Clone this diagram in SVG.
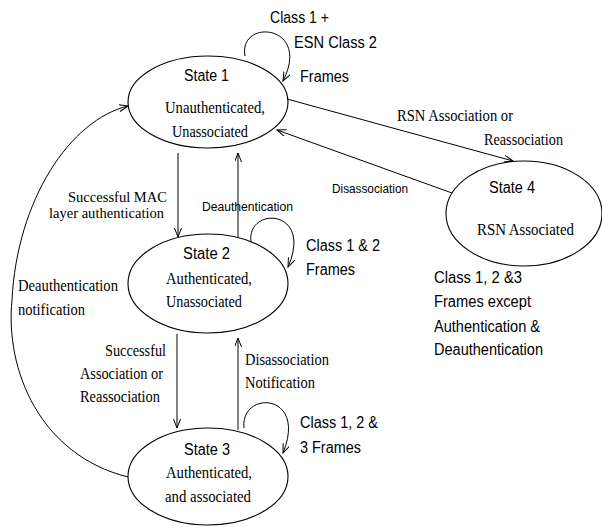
<svg xmlns="http://www.w3.org/2000/svg" width="602" height="527" viewBox="0 0 602 527">
<style>
.st{fill:none;stroke:#000;stroke-width:1.1}
.e{fill:none;stroke:#000;stroke-width:1}
.s{font-family:"Liberation Sans",Arial,sans-serif;font-size:16px;fill:#000}
.ss{font-family:"Liberation Sans",Arial,sans-serif;font-size:13px;fill:#000}
.r{font-family:"Liberation Serif","Times New Roman",serif;font-size:16px;fill:#000}
.rs{font-family:"Liberation Serif","Times New Roman",serif;font-size:14.5px;fill:#000}
</style>
<defs>
<marker id="a" markerUnits="userSpaceOnUse" markerWidth="12" markerHeight="10" refX="9" refY="3.5" orient="auto" viewBox="0 0 12 10">
<path d="M0,0 L9,3.5 L0,7" fill="none" stroke="#000" stroke-width="1"/>
</marker>
</defs>
<rect width="602" height="527" fill="#fff"/>
<g id="connectors">
<line class="e" x1="287" y1="99" x2="513" y2="161" marker-end="url(#a)"/>
<line class="e" x1="452" y1="193" x2="277" y2="130" marker-end="url(#a)"/>
<line class="e" x1="178" y1="153" x2="178" y2="237" marker-end="url(#a)"/>
<line class="e" x1="238" y1="237" x2="238" y2="153" marker-end="url(#a)"/>
<line class="e" x1="177" y1="334" x2="177" y2="428" marker-end="url(#a)"/>
<line class="e" x1="238" y1="430" x2="238" y2="338" marker-end="url(#a)"/>
<path class="e" d="M128,477 C40,455 5,370 12,300 C17,200 70,120 128,106" marker-end="url(#a)"/>
<path class="e" d="M245,56 C238,18 312,24 283,81" marker-end="url(#a)"/>
<path class="e" d="M251,242 C246,206 314,208 288,267" marker-end="url(#a)"/>
<path class="e" d="M244,428 C240,390 308,392 283,453" marker-end="url(#a)"/>
<text class="s" x="270" y="23" textLength="59" lengthAdjust="spacingAndGlyphs">Class 1 +</text>
<text class="s" x="294" y="48" textLength="83" lengthAdjust="spacingAndGlyphs">ESN Class 2</text>
<text class="s" x="300" y="82" textLength="49" lengthAdjust="spacingAndGlyphs">Frames</text>
<text class="r" x="397" y="121" textLength="116" lengthAdjust="spacingAndGlyphs">RSN Association or</text>
<text class="r" x="484" y="145" textLength="79" lengthAdjust="spacingAndGlyphs">Reassociation</text>
<text class="ss" x="332" y="193" textLength="76" lengthAdjust="spacingAndGlyphs">Disassociation</text>
<text class="rs" x="68" y="202" textLength="99" lengthAdjust="spacingAndGlyphs">Successful MAC</text>
<text class="rs" x="49" y="218" textLength="115" lengthAdjust="spacingAndGlyphs">layer authentication</text>
<text class="ss" x="202" y="211" textLength="91" lengthAdjust="spacingAndGlyphs">Deauthentication</text>
<text class="s" x="306" y="251" textLength="74" lengthAdjust="spacingAndGlyphs">Class 1 &amp; 2</text>
<text class="s" x="306" y="275" textLength="49" lengthAdjust="spacingAndGlyphs">Frames</text>
<text class="r" x="18" y="291" textLength="100" lengthAdjust="spacingAndGlyphs">Deauthentication</text>
<text class="r" x="18" y="315" textLength="67" lengthAdjust="spacingAndGlyphs">notification</text>
<text class="r" x="105" y="356" textLength="61" lengthAdjust="spacingAndGlyphs">Successful</text>
<text class="r" x="80" y="379" textLength="83" lengthAdjust="spacingAndGlyphs">Association or</text>
<text class="r" x="80" y="402" textLength="80" lengthAdjust="spacingAndGlyphs">Reassociation</text>
<text class="r" x="245" y="365" textLength="84" lengthAdjust="spacingAndGlyphs">Disassociation</text>
<text class="r" x="245" y="388" textLength="70" lengthAdjust="spacingAndGlyphs">Notification</text>
<text class="s" x="300" y="428" textLength="78" lengthAdjust="spacingAndGlyphs">Class 1, 2 &amp;</text>
<text class="s" x="300" y="453" textLength="61" lengthAdjust="spacingAndGlyphs">3 Frames</text>
</g>
<g id="state1">
<ellipse class="st" cx="208" cy="102" rx="80" ry="46"/>
<text class="s" x="184" y="81" textLength="45" lengthAdjust="spacingAndGlyphs">State 1</text>
<text class="r" x="165" y="113" textLength="100" lengthAdjust="spacingAndGlyphs">Unauthenticated,</text>
<text class="r" x="172" y="137" textLength="76" lengthAdjust="spacingAndGlyphs">Unassociated</text>
</g>
<g id="state2">
<ellipse class="st" cx="208" cy="283.5" rx="80" ry="49.5"/>
<text class="s" x="183" y="259" textLength="47" lengthAdjust="spacingAndGlyphs">State 2</text>
<text class="r" x="166" y="284" textLength="86" lengthAdjust="spacingAndGlyphs">Authenticated,</text>
<text class="r" x="166" y="307" textLength="76" lengthAdjust="spacingAndGlyphs">Unassociated</text>
</g>
<g id="state3">
<ellipse class="st" cx="208" cy="476.5" rx="80" ry="48.5"/>
<text class="s" x="184" y="455" textLength="46" lengthAdjust="spacingAndGlyphs">State 3</text>
<text class="r" x="166" y="478" textLength="86" lengthAdjust="spacingAndGlyphs">Authenticated,</text>
<text class="r" x="165" y="502" textLength="86" lengthAdjust="spacingAndGlyphs">and associated</text>
</g>
<g id="state4">
<ellipse class="st" cx="524" cy="213.5" rx="78" ry="52.5"/>
<text class="s" x="489" y="193" textLength="46" lengthAdjust="spacingAndGlyphs">State 4</text>
<text class="r" x="477" y="235" textLength="97" lengthAdjust="spacingAndGlyphs">RSN Associated</text>
<text class="s" x="434" y="283" textLength="88" lengthAdjust="spacingAndGlyphs">Class 1, 2 &amp;3</text>
<text class="s" x="434" y="307" textLength="97" lengthAdjust="spacingAndGlyphs">Frames except</text>
<text class="s" x="434" y="332" textLength="106" lengthAdjust="spacingAndGlyphs">Authentication &amp;</text>
<text class="s" x="434" y="355" textLength="109" lengthAdjust="spacingAndGlyphs">Deauthentication</text>
</g>
</svg>
